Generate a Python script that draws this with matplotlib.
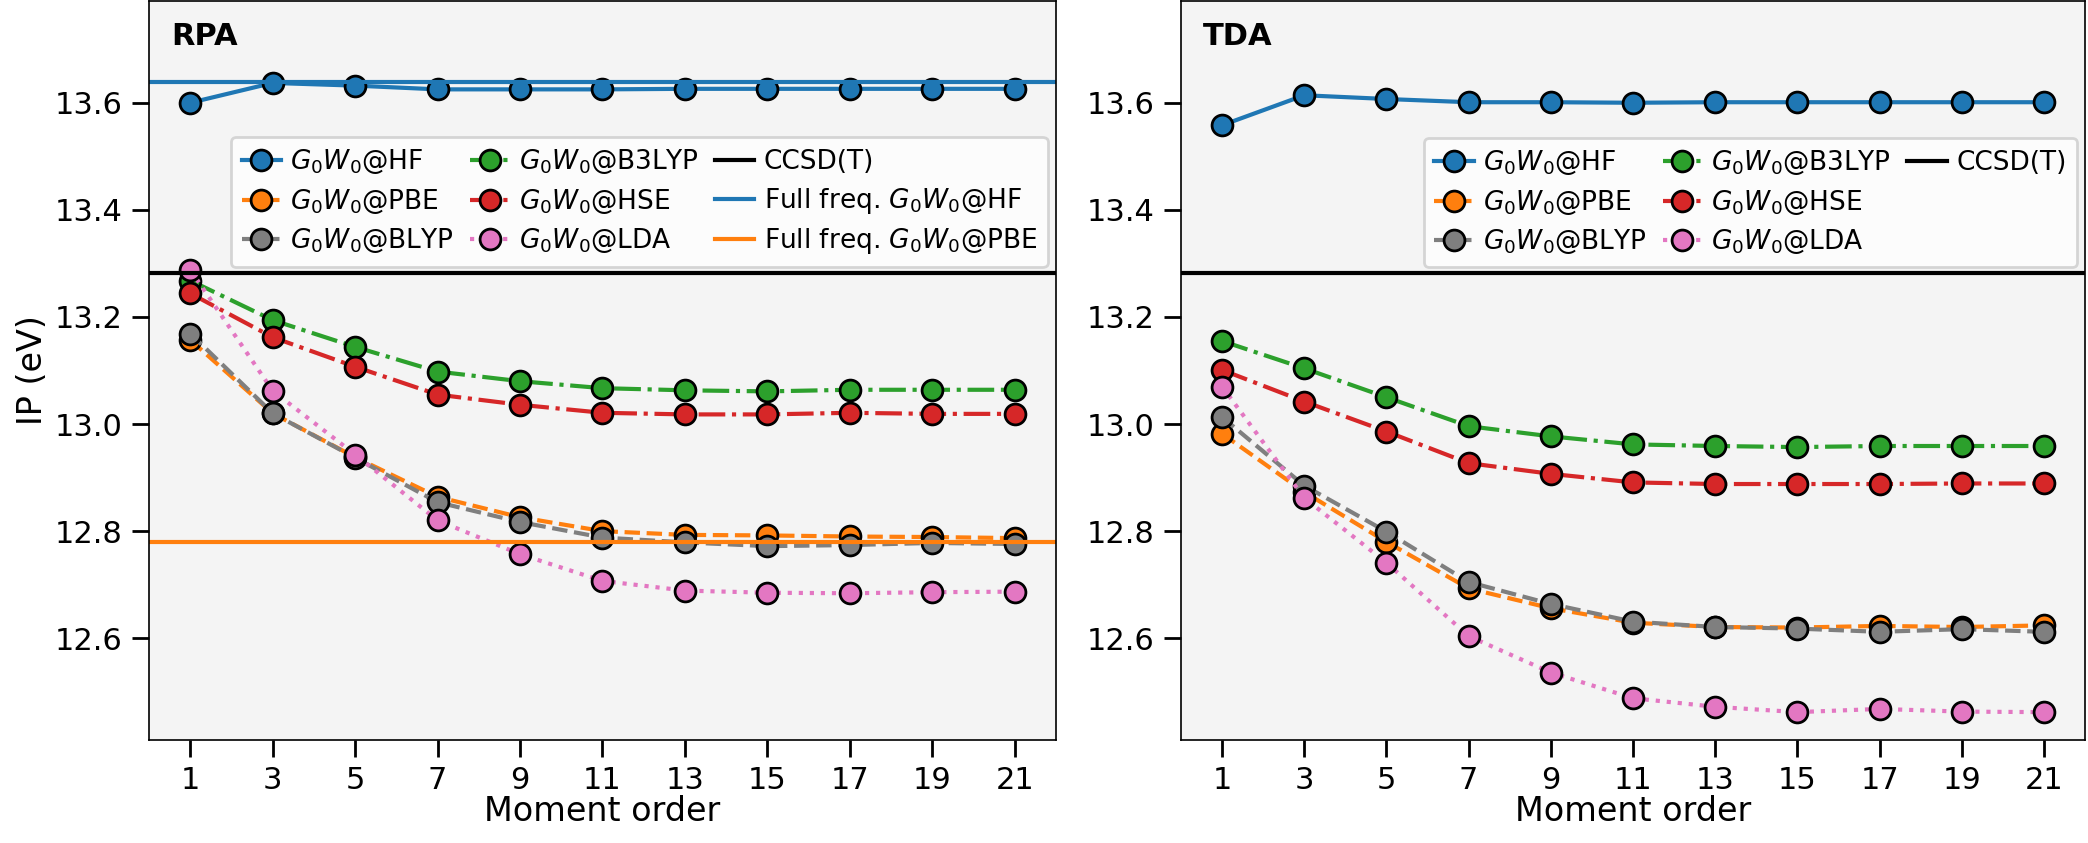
import matplotlib.pyplot as plt
from matplotlib.lines import Line2D

moments = [1, 3, 5, 7, 9, 11, 13, 15, 17, 19, 21]

# RPA screening
rpa_hf = [13.600, 13.637, 13.632, 13.625, 13.625, 13.625, 13.626, 13.626, 13.626, 13.626, 13.626]
rpa_pbe = [13.157, 13.020, 12.938, 12.864, 12.826, 12.800, 12.793, 12.792, 12.790, 12.789, 12.787]
rpa_blyp = [13.169, 13.020, 12.937, 12.854, 12.817, 12.788, 12.779, 12.772, 12.774, 12.778, 12.776]
rpa_b3lyp = [13.268, 13.194, 13.144, 13.098, 13.080, 13.067, 13.063, 13.061, 13.064, 13.064, 13.064]
rpa_hse = [13.244, 13.162, 13.107, 13.055, 13.036, 13.021, 13.018, 13.018, 13.021, 13.019, 13.019]
rpa_lda = [13.288, 13.062, 12.943, 12.820, 12.757, 12.707, 12.689, 12.685, 12.684, 12.686, 12.687]

# TDA screening
tda_hf = [13.558, 13.614, 13.607, 13.601, 13.601, 13.600, 13.601, 13.601, 13.601, 13.601, 13.601]
tda_pbe = [12.982, 12.873, 12.780, 12.693, 12.656, 12.629, 12.621, 12.620, 12.623, 12.621, 12.624]
tda_blyp = [13.013, 12.885, 12.799, 12.705, 12.664, 12.631, 12.621, 12.618, 12.612, 12.617, 12.612]
tda_b3lyp = [13.155, 13.104, 13.050, 12.996, 12.977, 12.962, 12.959, 12.957, 12.959, 12.959, 12.959]
tda_hse = [13.101, 13.042, 12.986, 12.927, 12.907, 12.891, 12.888, 12.888, 12.888, 12.889, 12.889]
tda_lda = [13.070, 12.862, 12.741, 12.604, 12.536, 12.488, 12.472, 12.462, 12.468, 12.463, 12.462]

ccsdt = 13.282
full_freq_hf = 13.638
full_freq_pbe = 12.780

plt.rcParams['font.size'] = 11

fig = plt.figure(figsize=(10.44, 4.215), dpi=200)
ax1 = fig.add_axes([0.0714, 0.1222, 0.4343, 0.8766])
ax2 = fig.add_axes([0.5656, 0.1222, 0.4330, 0.8766])

styles = [('HF', 'C0', '-'), ('PBE', 'C1', '--'), ('BLYP', 'C7', '--'),
          ('B3LYP', 'C2', '-.'), ('HSE', 'C3', '-.'), ('LDA', 'C6', ':')]

def draw(ax, series, title):
    ax.set_facecolor('#f4f4f4')
    for (name, col, ls), vals in zip(styles, series):
        ax.plot(moments, vals, color=col, ls=ls, lw=1.5, marker='o', ms=7.5,
                mec='black', mew=1.0, label=r'$G_0W_0$@' + name)
    ax.axhline(ccsdt, color='black', lw=1.5, label='CCSD(T)')
    ax.set_xlim(0, 22)
    ax.set_ylim(12.41, 13.79)
    ax.set_xticks(moments)
    ax.set_yticks([12.6, 12.8, 13.0, 13.2, 13.4, 13.6])
    ax.tick_params(length=6, width=1.0)
    for s in ax.spines.values():
        s.set_linewidth(0.6)
    ax.set_xlabel('Moment order', fontsize=12, labelpad=0)
    ax.text(0.024, 0.972, title, transform=ax.transAxes, va='top', ha='left',
            fontweight='bold', fontsize=11)

draw(ax1, [rpa_hf, rpa_pbe, rpa_blyp, rpa_b3lyp, rpa_hse, rpa_lda], 'RPA')
ax1.axhline(full_freq_hf, color='C0', lw=1.5, label=r'Full freq. $G_0W_0$@HF')
ax1.axhline(full_freq_pbe, color='C1', lw=1.5, label=r'Full freq. $G_0W_0$@PBE')
ax1.set_ylabel('IP (eV)', fontsize=12, labelpad=2)

draw(ax2, [tda_hf, tda_pbe, tda_blyp, tda_b3lyp, tda_hse, tda_lda], 'TDA')

leg_kw = dict(ncol=3, loc='lower right', bbox_to_anchor=(0.991, 0.64), borderaxespad=0,
              fontsize=9.5, handlelength=1.5, handletextpad=0.35, columnspacing=0.6,
              labelspacing=0.4)
ax1.legend(**leg_kw)
h, l = ax2.get_legend_handles_labels()
blank = Line2D([], [], alpha=0)
ax2.legend(h + [blank, blank], l + ['', ''], **leg_kw)

fig.savefig('out.png', dpi=200)
